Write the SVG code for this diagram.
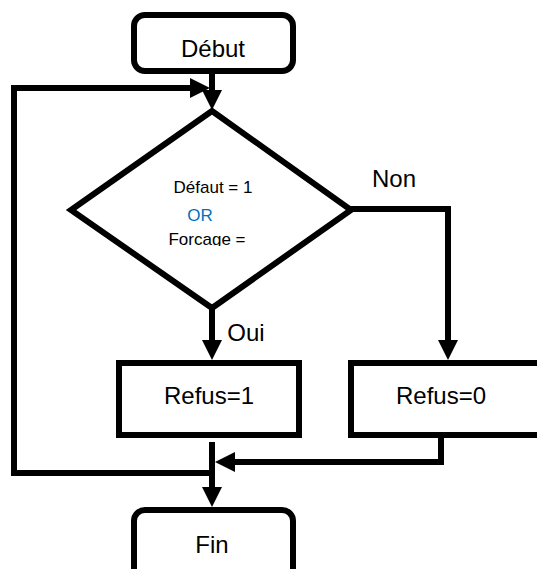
<svg xmlns="http://www.w3.org/2000/svg" width="537" height="569" viewBox="0 0 537 569">
  <style>
    .box { fill: #fff; stroke: #000; stroke-width: 6; }
    .ln { fill: none; stroke: #000; stroke-width: 6; stroke-linejoin: miter; }
    .t { font-family: "Liberation Sans", Arial, sans-serif; fill: #000; text-anchor: middle; }
    .big { font-size: 24px; }
    .small { font-size: 17px; }
  </style>
  <defs>
    <marker id="ah" markerWidth="20" markerHeight="20" refX="13" refY="10" orient="auto" markerUnits="userSpaceOnUse" viewBox="0 0 20 20">
      <path d="M0,0 L20,10 L0,20 Z" fill="#000"/>
    </marker>
    <clipPath id="clipF"><rect x="150" y="225" width="130" height="21"/></clipPath>
  </defs>
  <g id="connectors">
    <line class="ln" x1="212" y1="73" x2="212" y2="103" marker-end="url(#ah)"/>
    <polyline class="ln" points="212,473 14,473 14,88 203,88" marker-end="url(#ah)"/>
    <polyline class="ln" points="350,209 448,209 448,353" marker-end="url(#ah)"/>
    <line class="ln" x1="212" y1="309" x2="212" y2="353" marker-end="url(#ah)"/>
    <polyline class="ln" points="441,438 441,462 222,462" marker-end="url(#ah)"/>
    <line class="ln" x1="212" y1="442" x2="212" y2="500" marker-end="url(#ah)"/>
  </g>
  <g id="debut">
    <rect class="box" x="134" y="15" width="159" height="56" rx="11"/>
    <text class="t big" x="213" y="57">Début</text>
  </g>
  <g id="decision">
    <polygon class="box" points="212,111 351,210 212,308 71,210"/>
    <text class="t small" x="213" y="193">Défaut = 1</text>
    <text class="t small" x="200" y="221" style="fill:#0070C0">OR</text>
    <text class="t small" x="207" y="245" clip-path="url(#clipF)">Forcage =</text>
  </g>
  <g id="labels">
    <text class="t big" x="394" y="187">Non</text>
    <text class="t big" x="246" y="341">Oui</text>
  </g>
  <g id="refus1">
    <rect class="box" x="119" y="363" width="180" height="72"/>
    <text class="t big" x="209" y="404">Refus=1</text>
  </g>
  <g id="refus0">
    <rect class="box" x="351" y="363" width="200" height="72"/>
    <text class="t big" x="441" y="404">Refus=0</text>
  </g>
  <g id="fin">
    <rect class="box" x="134" y="510" width="159" height="70" rx="11"/>
    <text class="t big" x="212" y="553">Fin</text>
  </g>
</svg>
